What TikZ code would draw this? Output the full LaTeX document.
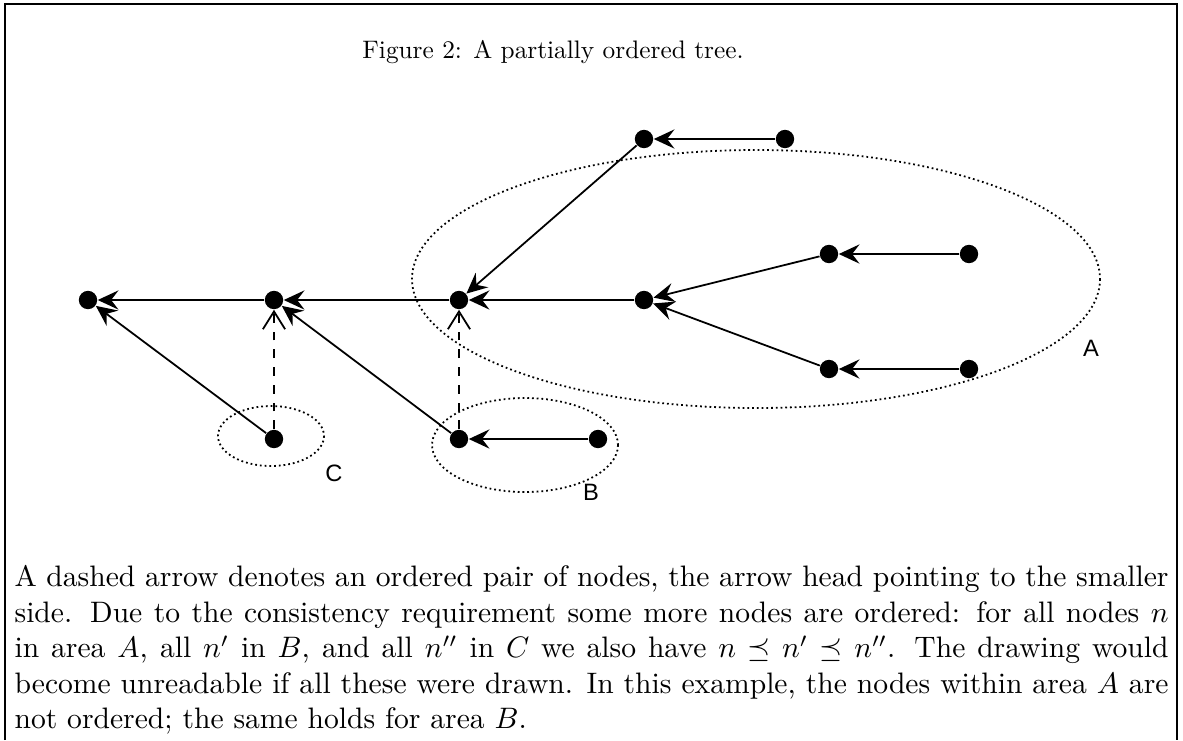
\documentclass[tikz,border=0pt]{standalone}
\usepackage{fontspec}
\newfontfamily\labelfont{Liberation Sans}
\usetikzlibrary{arrows.meta}
\tikzset{
  dot/.style={circle,fill=black,inner sep=0pt,minimum size=6.2pt},
  edge/.style={semithick,-{Stealth[length=7pt,width=6.5pt,inset=2.5pt]}},
  order/.style={semithick,dashed,-{Straight Barb[length=6pt,width=7.5pt]}},
  area/.style={densely dotted,semithick},
  arealabel/.style={font=\labelfont\fontsize{8pt}{9pt}\selectfont}
}
\begin{document}
\begin{tikzpicture}[x=0.3378pt,y=-0.3378pt]
  \useasboundingbox (0,0) rectangle (1183,740);
  % frame
  \draw[semithick] (5,740) -- (5,4) -- (1177,4) -- (1177,740);
  \node[anchor=base] (caption) at (553,58) {\scalebox{0.855}{Figure 2: A partially ordered tree.}};
  % areas
  \draw[area] (756,279) ellipse (344 and 129);
  \draw[area] (271,436) ellipse (53 and 30);
  \draw[area] (525,445) ellipse (93 and 47);
  \node[arealabel] (labA) at (1091,348) {A};
  \node[arealabel] (labC) at (334,473) {C};
  \node[arealabel] (labB) at (591,492) {B};
  % nodes
  \node[dot] (n1) at (88,300) {};
  \node[dot] (n2) at (274,300) {};
  \node[dot] (n3) at (459,300) {};
  \node[dot] (n4) at (644,300) {};
  \node[dot] (t1) at (644,139) {};
  \node[dot] (t2) at (785,139) {};
  \node[dot] (m1) at (829,254) {};
  \node[dot] (m2) at (969,254) {};
  \node[dot] (l1) at (829,369) {};
  \node[dot] (l2) at (969,369) {};
  \node[dot] (c1) at (274,439) {};
  \node[dot] (b1) at (459,439) {};
  \node[dot] (b2) at (598,439) {};
  % tree edges
  \draw[edge] (n2) -- (n1);
  \draw[edge] (n3) -- (n2);
  \draw[edge] (n4) -- (n3);
  \draw[edge] (t1) -- (n3);
  \draw[edge] (t2) -- (t1);
  \draw[edge] (m1) -- (n4);
  \draw[edge] (m2) -- (m1);
  \draw[edge] (l1) -- (n4);
  \draw[edge] (l2) -- (l1);
  \draw[edge] (c1) -- (n1);
  \draw[edge] (b1) -- (n2);
  \draw[edge] (b2) -- (b1);
  % ordered pairs
  \draw[order] (c1) -- (n2);
  \draw[order] (b1) -- (n3);
  \node[anchor=north west,inner sep=0pt,text width=389.8pt,align=justify] (body) at (14,565)
    {\noindent A dashed arrow denotes an ordered pair of nodes, the arrow head pointing to the smaller side.
     Due to the consistency requirement some more nodes are ordered: for all nodes $n$ in area $A$,
     all $n'$ in $B$, and all $n''$ in $C$ we also have $n \preceq n' \preceq n''$. The drawing would
     become unreadable if all these were drawn. In this example, the nodes within area $A$ are not
     ordered; the same holds for area $B$.};
\end{tikzpicture}
\end{document}
